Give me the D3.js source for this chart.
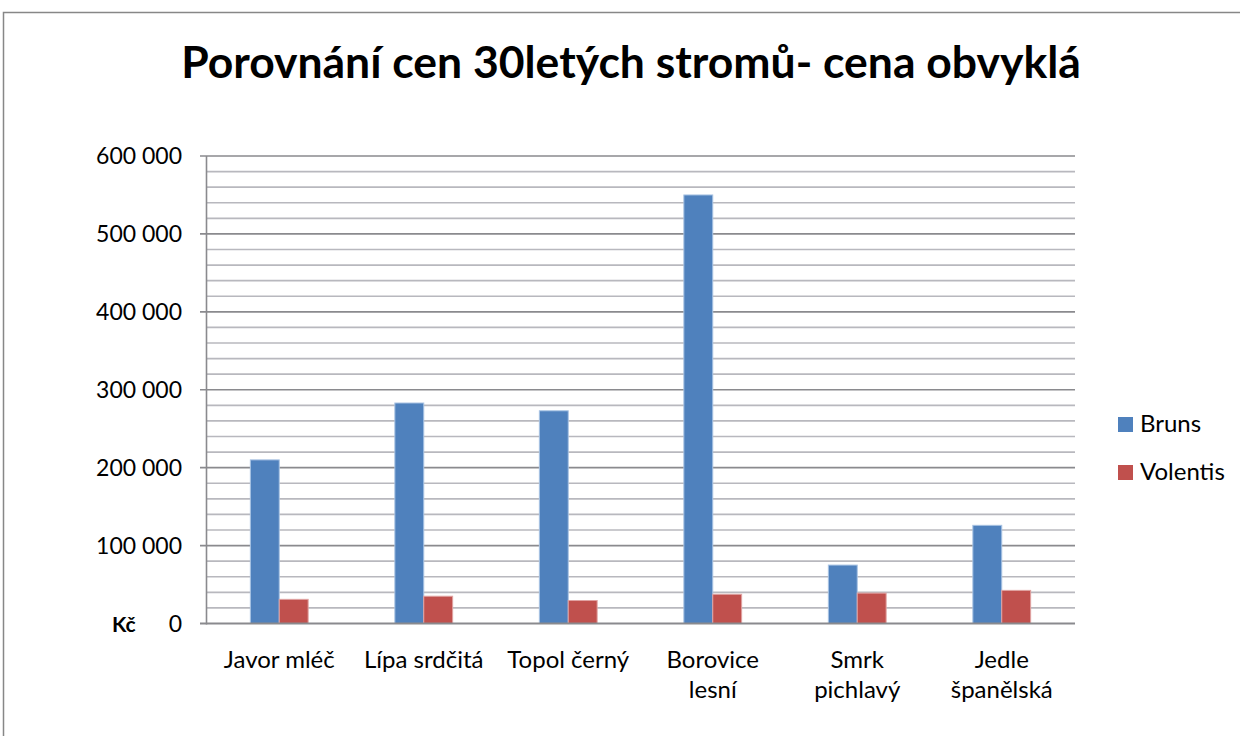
<!DOCTYPE html>
<html>
<head>
<meta charset="utf-8">
<script src="https://cdn.jsdelivr.net/npm/d3@7"></script>
<style>
  html, body { margin: 0; padding: 0; background: #fff; }
  svg { display: block; }
  text { font-family: Lato, "Open Sans", sans-serif; fill: #000; }
</style>
</head>
<body>
<svg id="chart" width="1240" height="736"></svg>
<script>
const titleText = "Porovnání cen 30letých stromů- cena obvyklá";
const categories = ["Javor mléč", "Lípa srdčitá", "Topol černý", "Borovice lesní", "Smrk pichlavý", "Jedle španělská"];
const categoryLines = [["Javor mléč"], ["Lípa srdčitá"], ["Topol černý"], ["Borovice", "lesní"], ["Smrk", "pichlavý"], ["Jedle", "španělská"]];
const seriesNames = ["Bruns", "Volentis"];
const bruns = [210000, 283000, 273000, 550000, 75000, 126000];
const volentis = [31000, 35000, 29500, 37500, 39000, 42500];
const yTicks = [0, 100000, 200000, 300000, 400000, 500000, 600000];
const yTickLabels = ["0", "100 000", "200 000", "300 000", "400 000", "500 000", "600 000"];
const yMinorTicks = d3.range(0, 600001, 20000);
const yUnitLabel = "Kč";
const colors = ["#4F81BD", "#C0504D"];
const strokeColors = ["#a9c3e3", "#e0a3a2"];

(function () {
const svg = d3.select("#chart");

// outer frame
svg.append("rect").attr("x", 3.5).attr("y", 12.5).attr("width", 1300).attr("height", 800)
  .attr("fill", "none").attr("stroke", "#878787").attr("stroke-width", 1.5);

const pLeft = 207, pRight = 1074, pTop = 156, pBottom = 623.5;

const x0 = d3.scaleBand().domain(categories).range([pLeft, pRight]).padding(0);
const x1 = d3.scaleBand().domain(seriesNames).range([x0.bandwidth() * 0.3, x0.bandwidth() * 0.7]);
const y = d3.scaleLinear().domain([0, 600000]).range([pBottom, pTop]);

// minor gridlines
svg.append("g").selectAll("line").data(yMinorTicks.filter(v => v % 100000 !== 0)).join("line")
  .attr("x1", pLeft).attr("x2", pRight + 1)
  .attr("y1", d => y(d)).attr("y2", d => y(d))
  .attr("stroke", "#b8b8be").attr("stroke-width", 1.6);

// major gridlines
svg.append("g").selectAll("line").data(yTicks.filter(v => v > 0)).join("line")
  .attr("x1", pLeft - 7).attr("x2", pRight + 1)
  .attr("y1", d => y(d)).attr("y2", d => y(d))
  .attr("stroke", "#8a8a8e").attr("stroke-width", 1.6);

// bars
const data = categories.map((c, i) => ({ cat: c, vals: [bruns[i], volentis[i]] }));
const groups = svg.append("g").selectAll("g").data(data).join("g")
  .attr("transform", d => `translate(${x0(d.cat)},0)`);
groups.selectAll("rect").data(d => d.vals.map((v, j) => ({ key: seriesNames[j], v, j }))).join("rect")
  .attr("x", d => x1(d.key)).attr("width", x1.bandwidth())
  .attr("y", d => y(d.v)).attr("height", d => y(0) - y(d.v))
  .attr("fill", d => colors[d.j])
  .attr("stroke", d => strokeColors[d.j]).attr("stroke-width", 1);

// axes lines
svg.append("line").attr("x1", pLeft - 0.5).attr("x2", pLeft - 0.5).attr("y1", pTop).attr("y2", pBottom + 1)
  .attr("stroke", "#8a8a8e").attr("stroke-width", 1.6);
svg.append("line").attr("x1", pLeft - 7).attr("x2", pRight + 1).attr("y1", pBottom).attr("y2", pBottom)
  .attr("stroke", "#8a8a8e").attr("stroke-width", 1.8);

// y tick labels
svg.append("g").selectAll("text").data(yTicks).join("text")
  .attr("x", 182).attr("y", d => y(d) + 8)
  .attr("text-anchor", "end").attr("font-size", 23)
  .text((d, i) => yTickLabels[i]);

svg.append("text").attr("x", 112).attr("y", pBottom + 8)
  .attr("font-size", 21).attr("font-weight", "bold").text(yUnitLabel);

// x labels
const xl = svg.append("g").selectAll("text").data(categories).join("text")
  .attr("text-anchor", "middle").attr("font-size", 24)
  .attr("x", d => x0(d) + x0.bandwidth() / 2).attr("y", 668);
xl.each(function(d, i) {
  d3.select(this).selectAll("tspan").data(categoryLines[i]).join("tspan")
    .attr("x", x0(d) + x0.bandwidth() / 2)
    .attr("dy", (t, k) => k === 0 ? 0 : 30)
    .text(t => t);
});

// legend
const legendY = [417, 465];
const lg = svg.append("g").selectAll("g").data(seriesNames).join("g")
  .attr("transform", (d, i) => `translate(1118,${legendY[i]})`);
lg.append("rect").attr("width", 15).attr("height", 15).attr("fill", (d, i) => colors[i]);
lg.append("text").attr("x", 22).attr("y", 15).attr("font-size", 24).text(d => d);

// title
const title = svg.append("text").attr("x", 631).attr("y", 78).attr("text-anchor", "middle")
  .attr("font-size", 40).attr("font-weight", "bold").text(titleText);
const w = title.node().getComputedTextLength();
title.attr("font-size", 40 * 900 / w);
})();
</script>
</body>
</html>
